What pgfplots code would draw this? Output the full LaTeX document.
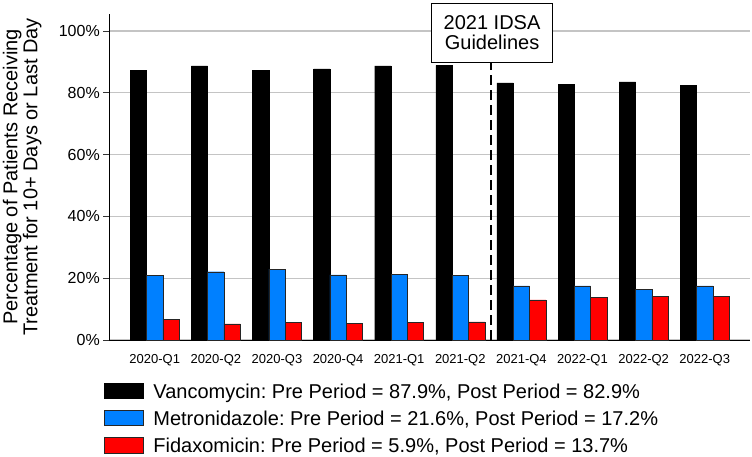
\documentclass[border=0pt]{standalone}
\usepackage{pgfplots}
\pgfplotsset{compat=1.18}
\usepackage{fontspec}
\setmainfont{Liberation Sans}
\frenchspacing
\definecolor{vanc}{HTML}{000000}
\definecolor{metro}{HTML}{0080FF}
\definecolor{fidax}{HTML}{FF0000}
\definecolor{gridc}{HTML}{C4C4C4}
\pgfplotsset{mylegend/.style={legend image code/.code={\draw[##1] (0pt,-5pt) rectangle (39pt,10.6pt);}}}
\begin{document}
\frenchspacing
\begin{tikzpicture}[x=1pt,y=1pt]
\path[use as bounding box] (0,0) rectangle (752,457);
\begin{axis}[
  at={(109.3pt,117pt)}, anchor=south west,
  scale only axis, width=640.7pt, height=326pt,
  xmin=-0.743, xmax=9.74, ymin=0, ymax=105.5,
  axis x line=bottom, axis y line=left,
  axis line style={-, line width=0.8pt, black},
  xtick={0,1,2,3,4,5,6,7,8,9},
  xticklabels={2020-Q1,2020-Q2,2020-Q3,2020-Q4,2021-Q1,2021-Q2,2021-Q4,2022-Q1,2022-Q2,2022-Q3},
  xtick style={draw=none},
  xticklabel style={font=\fontsize{13}{13}\selectfont, inner sep=0pt, yshift=-8.7pt},
  ytick={0,20,40,60,80,100},
  yticklabels={0\%,20\%,40\%,60\%,80\%,100\%},
  yticklabel style={font=\fontsize{16}{16}\selectfont},
  tick align=outside, major tick length=6pt,
  ytick style={line width=0.8pt, black!80},
  ymajorgrids, grid style={gridc, line width=1.1pt},
  ylabel={Percentage of Patients Receiving\\Treatment for 10+ Days or Last Day},
  ylabel style={align=center, font=\fontsize{20}{20}\selectfont, inner sep=0pt,
    at={(rel axis cs:-0.1055,0.5)}, anchor=south},
  clip=false,
  legend cell align=left,
  legend style={draw=none, fill=none, at={(-0.00827,-0.131)}, anchor=north west,
    inner sep=0pt, outer sep=0pt, row sep=6.3pt, column sep=10pt,
    font=\fontsize{20}{20}\selectfont\frenchspacing,
    nodes={inner sep=0pt, text height=15pt, text depth=5pt}},
]
\addplot[ybar, bar width=0.2667, bar shift=-0.2667, fill=vanc, draw=black, line width=0.4pt, mylegend]
  coordinates {(0,87.3) (1,88.7) (2,87.3) (3,87.7) (4,88.7) (5,88.9) (6,83.2) (7,82.8) (8,83.5) (9,82.4)};
\addlegendentry{Vancomycin: Pre Period = 87.9\%, Post Period = 82.9\%}
\addplot[ybar, bar width=0.2667, bar shift=0, fill=metro, draw=black!85, line width=0.4pt, mylegend]
  coordinates {(0,21.0) (1,22.1) (2,22.9) (3,21.1) (4,21.2) (5,20.9) (6,17.5) (7,17.5) (8,16.4) (9,17.5)};
\addlegendentry{Metronidazole: Pre Period = 21.6\%, Post Period = 17.2\%}
\addplot[ybar, bar width=0.2667, bar shift=0.2667, fill=fidax, draw=black!85, line width=0.4pt, mylegend]
  coordinates {(0,6.7) (1,5.2) (2,5.8) (3,5.5) (4,5.7) (5,5.9) (6,13.0) (7,13.9) (8,14.2) (9,14.2)};
\addlegendentry{Fidaxomicin: Pre Period = 5.9\%, Post Period = 13.7\%}
\addplot[black, line width=1.8pt, dash pattern=on 10pt off 5pt, forget plot]
  coordinates {(5.5,0) (5.5,105.5)};
\node[fill=white, draw=black, line width=0.7pt, align=center, inner xsep=12pt, inner ysep=12.8pt,
  font=\fontsize{20}{20}\selectfont] at (axis cs:5.52,99.4) {2021 IDSA\\Guidelines};
\end{axis}
\end{tikzpicture}
\end{document}
